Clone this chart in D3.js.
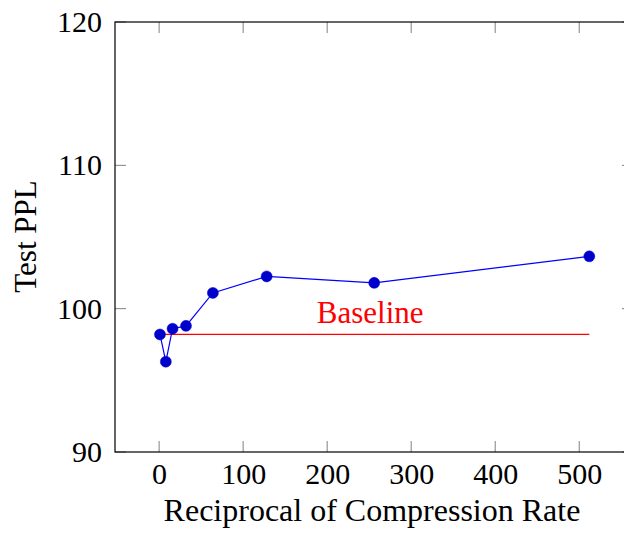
<!DOCTYPE html>
<html>
<head>
<meta charset="utf-8">
<script src="https://cdn.jsdelivr.net/npm/d3@7"></script>
<style>
  body { margin: 0; background: #fff; }
  text { font-family: "Liberation Serif", "Times New Roman", "DejaVu Serif", serif; }
</style>
</head>
<body>
<svg class="chart"></svg>
<script>
// chart size and plot frame
var width = 624;
var height = 533;
var margin = {top: 22, right: -9, bottom: 81, left: 115};
var w = width - margin.left - margin.right;
var h = height - margin.top - margin.bottom;

// data
var rates = [1, 8, 16, 32, 64, 128, 256, 512];
var ppl = [98.2, 96.3, 98.6, 98.8, 101.1, 102.25, 101.8, 103.65];
var baseline = 98.2;
var baselineRange = [1, 512];
var xTicks = [0, 100, 200, 300, 400, 500];
var yTicks = [90, 100, 110, 120];

var svg = d3.select(".chart")
    .attr("width", width)
    .attr("height", height);

var chart = svg.append("g")
    .attr("transform", "translate(" + margin.left + "," + margin.top + ")");

var x = d3.scaleLinear()
    .domain([-52.5, 564])
    .range([0, w]);

var y = d3.scaleLinear()
    .domain([90, 120])
    .range([h, 0]);

var tickLen = 11;

// ticks (drawn inward, grey like pgfplots)
chart.selectAll(".xtick-b").data(xTicks).enter().append("line")
    .attr("x1", function(d) { return x(d); })
    .attr("x2", function(d) { return x(d); })
    .attr("y1", h).attr("y2", h - tickLen)
    .style("stroke", "#808080").style("stroke-width", 1);
chart.selectAll(".xtick-t").data(xTicks).enter().append("line")
    .attr("x1", function(d) { return x(d); })
    .attr("x2", function(d) { return x(d); })
    .attr("y1", 0).attr("y2", tickLen)
    .style("stroke", "#808080").style("stroke-width", 1);
chart.selectAll(".ytick-l").data(yTicks).enter().append("line")
    .attr("x1", 0).attr("x2", tickLen)
    .attr("y1", function(d) { return y(d); })
    .attr("y2", function(d) { return y(d); })
    .style("stroke", "#808080").style("stroke-width", 1);
chart.selectAll(".ytick-r").data(yTicks).enter().append("line")
    .attr("x1", w).attr("x2", w - tickLen)
    .attr("y1", function(d) { return y(d); })
    .attr("y2", function(d) { return y(d); })
    .style("stroke", "#808080").style("stroke-width", 1);

// frame
chart.append("rect")
    .attr("x", 0).attr("y", 0)
    .attr("width", w).attr("height", h)
    .style("fill", "none")
    .style("stroke", "#000")
    .style("stroke-width", 1.2);

// tick labels via the axis generators
var xAxis = d3.axisBottom(x).tickValues(xTicks).tickSize(0).tickPadding(11);
var gx = chart.append("g")
    .attr("transform", "translate(0," + h + ")")
    .call(xAxis);
gx.select(".domain").remove();
gx.selectAll("text")
    .style("font-size", "30px")
    .style("font-family", "Liberation Serif")
    .attr("fill", "#000");

var yAxis = d3.axisLeft(y).tickValues(yTicks).tickSize(0).tickPadding(13);
var gy = chart.append("g").call(yAxis);
gy.select(".domain").remove();
gy.selectAll("text")
    .style("font-size", "30px")
    .style("font-family", "Liberation Serif")
    .attr("fill", "#000");

// baseline
chart.append("line")
    .attr("x1", x(baselineRange[0]))
    .attr("x2", x(baselineRange[1]))
    .attr("y1", y(baseline))
    .attr("y2", y(baseline))
    .style("stroke", "#ff0000")
    .style("stroke-width", 1.2);

chart.append("text")
    .attr("x", x(256) - 4)
    .attr("y", y(baseline) - 11)
    .style("text-anchor", "middle")
    .style("font-size", "31px")
    .style("fill", "#ff0000")
    .text("Baseline");

// series
var line = d3.line()
    .x(function(d, i) { return x(rates[i]); })
    .y(function(d) { return y(d); });

chart.append("path")
    .datum(ppl)
    .attr("d", line)
    .style("fill", "none")
    .style("stroke", "#0000ff")
    .style("stroke-width", 1.2);

chart.selectAll("circle").data(ppl).enter().append("circle")
    .attr("cx", function(d, i) { return x(rates[i]); })
    .attr("cy", function(d) { return y(d); })
    .attr("r", 5.5)
    .style("fill", "#0000cc")
    .style("stroke", "#0000cc")
    .style("stroke-width", 0.5);

// axis labels
chart.append("text")
    .attr("x", 372 - margin.left)
    .attr("y", 521 - margin.top)
    .style("text-anchor", "middle")
    .style("font-size", "32px")
    .text("Reciprocal of Compression Rate");

chart.append("text")
    .attr("transform", "rotate(-90)")
    .attr("x", -(236.5 - margin.top))
    .attr("y", 36 - margin.left)
    .style("text-anchor", "middle")
    .style("font-size", "31px")
    .text("Test PPL");
</script>
</body>
</html>
